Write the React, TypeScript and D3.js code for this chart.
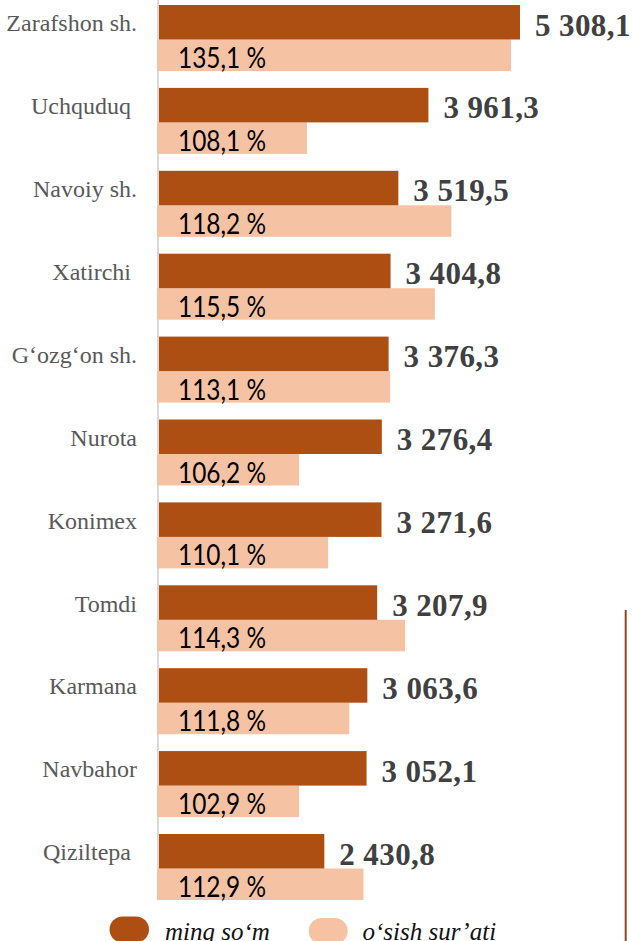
import React from "react";
import * as d3 from "d3";

const categories = [
  "Zarafshon sh.",
  "Uchquduq ",
  "Navoiy sh.",
  "Xatirchi ",
  "G‘ozg‘on sh.",
  "Nurota",
  "Konimex",
  "Tomdi",
  "Karmana",
  "Navbahor",
  "Qiziltepa ",
];
const values = [5308.1, 3961.3, 3519.5, 3404.8, 3376.3, 3276.4, 3271.6, 3207.9, 3063.6, 3052.1, 2430.8];
const growthLabels = [135.1, 108.1, 118.2, 115.5, 113.1, 106.2, 110.1, 114.3, 111.8, 102.9, 112.9];
// bar lengths of the light series as drawn in the picture (secondary axis, %)
const growthBars = [135.1, 109.1, 127.5, 125.4, 119.7, 108.1, 111.8, 121.6, 114.5, 108.1, 116.3];
const legendLabels = ["ming so‘m", "o‘sish sur’ati"];

const DARK = "#AD4E12";
const LIGHT = "#F5C3A4";

const locale = d3.formatLocale({ decimal: ",", thousands: "\u00a0", grouping: [3], currency: ["", ""] });
const fmtVal = locale.format(",.1f");
const fmtPct = locale.format(".1f");

export default function App() {
  const W = 632;
  const H = 941;
  const x = d3.scaleLinear().domain([0, d3.max(values) as number]).range([159, 520]);
  const xg = d3.scaleLinear().domain([90, d3.max(growthBars) as number]).range([157, 511]);
  const y = d3.scaleBand<string>().domain(categories).range([5, 5 + 82.9 * categories.length]).padding(0);
  const darkH = 34.5;
  const lightH = 31.5;

  return (
    <svg
      width={W}
      height={H}
      style={{ position: "absolute", left: 0, top: 0, background: "#fff" }}
    >
      <rect x={0} y={0} width={W} height={H} fill="#fff" />
      <line x1={158} x2={158} y1={0} y2={899} stroke="#d9d9d9" strokeWidth={2} />
      {categories.map((c, i) => {
        const y0 = y(c) as number;
        return (
          <g key={c}>
            <rect x={xg(90)} y={y0 + darkH} width={xg(growthBars[i]) - xg(90)} height={lightH} fill={LIGHT} />
            <rect x={x(0)} y={y0} width={x(values[i]) - x(0)} height={darkH} fill={DARK} />
            <text
              x={137}
              y={y0 + darkH / 2 + 9}
              textAnchor="end"
              style={{ whiteSpace: "pre" }}
              fontFamily="'Liberation Serif', 'Times New Roman', serif"
              fontSize={24}
              fill="#595959"
            >
              {c}
            </text>
            <text
              x={x(values[i]) + 15}
              y={y0 + 30.5}
              fontFamily="'Liberation Serif', 'Times New Roman', serif"
              fontWeight="bold"
              fontSize={31}
              letterSpacing={0.4}
              fill="#404040"
            >
              {fmtVal(values[i])}
            </text>
            <text
              x={178}
              y={y0 + 63}
              fontFamily="Lato, 'Noto Sans', sans-serif"
              fontSize={28}
              fill="#000"
              textLength={88}
              lengthAdjust="spacingAndGlyphs"
            >
              {fmtPct(growthLabels[i]) + " %"}
            </text>
          </g>
        );
      })}
      {/* legend */}
      <rect x={109.5} y={916.5} width={39.5} height={26} rx={13} fill={DARK} />
      <text
        x={165}
        y={939.5}
        fontFamily="'Liberation Serif', 'Times New Roman', serif"
        fontStyle="italic"
        fontSize={25}
        fill="#111"
      >
        {legendLabels[0]}
      </text>
      <rect x={308.7} y={918} width={39} height={26} rx={13} fill={LIGHT} />
      <text
        x={362.5}
        y={939.5}
        fontFamily="'Liberation Serif', 'Times New Roman', serif"
        fontStyle="italic"
        fontSize={25}
        fill="#111"
      >
        {legendLabels[1]}
      </text>
      <line x1={625.7} x2={625.7} y1={610} y2={941} stroke="#8B4A26" strokeWidth={2} />
    </svg>
  );
}
